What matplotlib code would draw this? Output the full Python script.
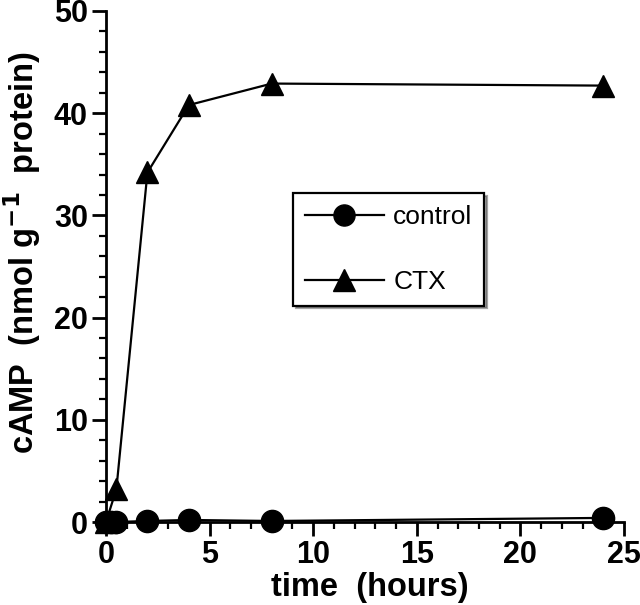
import matplotlib
matplotlib.use("Agg")
import matplotlib.pyplot as plt
from matplotlib.ticker import MultipleLocator

plt.rcParams['font.family'] = ['Liberation Sans', 'DejaVu Sans']

control_x = [0, 0.25, 0.5, 2, 4, 8, 24]
control_y = [0.0, 0.0, 0.0, 0.1, 0.2, 0.1, 0.4]
ctx_x = [0, 0.5, 2, 4, 8, 24]
ctx_y = [0.0, 3.2, 34.2, 40.8, 42.9, 42.7]

fig = plt.figure(figsize=(6.4, 6.05), dpi=100)
top_px, bot_px = 11, 522
ax = fig.add_axes([106/640, 1-bot_px/605, (624-106)/640, (bot_px-top_px)/605])

l1, = ax.plot(control_x, control_y, '-', color='black', lw=1.6, marker='o',
              markersize=16, clip_on=False, zorder=4, label='control')
l2, = ax.plot(ctx_x, ctx_y, '-', color='black', lw=1.6, marker='^',
              markersize=16, clip_on=False, zorder=3, label='CTX')

ax.set_xlim(0, 25)
ax.set_ylim(0, 50)
ax.spines['top'].set_visible(False)
ax.spines['right'].set_visible(False)
for s in ['left', 'bottom']:
    ax.spines[s].set_linewidth(2)
ax.xaxis.set_major_locator(MultipleLocator(5))
ax.xaxis.set_minor_locator(MultipleLocator(1))
ax.yaxis.set_major_locator(MultipleLocator(10))
ax.yaxis.set_minor_locator(MultipleLocator(2))
ax.tick_params(which='major', direction='out', length=10, width=2, labelsize=22, pad=3)
ax.tick_params(which='minor', direction='out', length=5, width=1.6)
for t in ax.get_xticklabels() + ax.get_yticklabels():
    t.set_fontweight('bold')

ax.set_xlabel('time  (hours)', fontsize=23.5, fontweight='bold', labelpad=3)
ax.set_ylabel(r'cAMP  (nmol g$^{\mathbf{-1}}$  protein)', fontsize=23.5, fontweight='bold', labelpad=6)
ax.xaxis.set_label_coords((370-106)/518, -0.098)
ax.yaxis.set_label_coords(-0.122, (bot_px-253)/(bot_px-top_px))

leg = ax.legend(handles=[l1, l2], loc='upper left',
                bbox_to_anchor=((293-106)/518, (bot_px-193)/(bot_px-top_px)),
                fontsize=19, frameon=True, fancybox=False, shadow=True,
                edgecolor='black', handlelength=3.0, markerscale=0.95,
                labelspacing=1.55, borderpad=0.45, handletextpad=0.35,
                borderaxespad=0)
leg.get_frame().set_linewidth(1.6)

fig.savefig('out.png', dpi=100)
